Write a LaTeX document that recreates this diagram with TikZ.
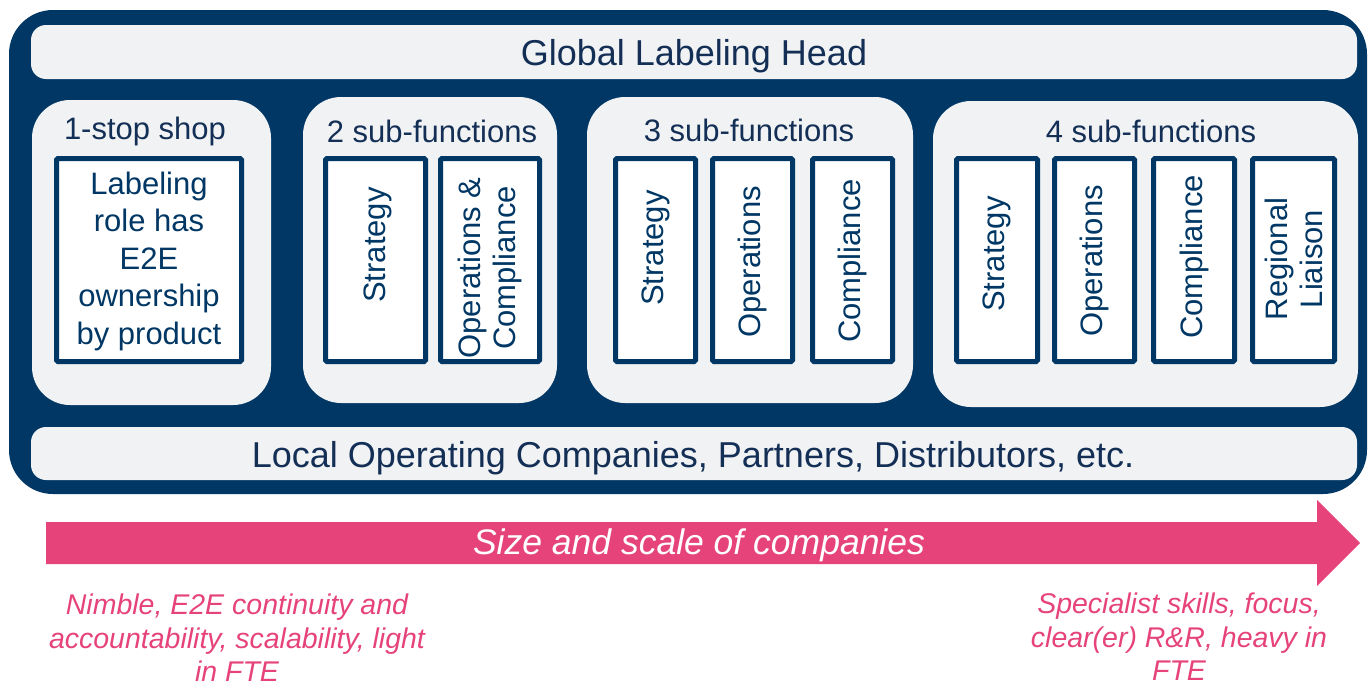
\documentclass[tikz,border=0pt]{standalone}
\usepackage{fontspec}
\setmainfont{Liberation Sans}
\definecolor{navy}{HTML}{003764}
\definecolor{inknavy}{HTML}{142F55}
\definecolor{panelgrey}{HTML}{F1F2F4}
\definecolor{scalepink}{HTML}{E5437A}
\begin{document}
\begin{tikzpicture}[x=1pt,y=-1pt,
  frame/.style={fill=navy, draw=none, rounded corners=44pt, inner sep=0pt, outer sep=0pt},
  bar/.style={fill=panelgrey, draw=none, rounded corners=15pt, minimum width=1326pt, inner sep=0pt},
  bartext/.style={anchor=base, text=inknavy, font=\fontsize{36}{43}\selectfont, inner sep=0pt},
  panel/.style={fill=panelgrey, draw=none, rounded corners=38pt, inner sep=0pt},
  ptitle/.style={text=inknavy, font=\fontsize{31}{37}\selectfont, inner sep=0pt},
  subbox/.style={fill=white, draw=navy, line width=5pt, rounded corners=1.5pt, minimum height=203pt, inner sep=0pt},
  vlabel/.style={rotate=90, text=navy, font=\fontsize{31}{35}\selectfont, align=center, inner sep=0pt},
  note/.style={text=scalepink, font=\fontsize{28.5}{33.5}\selectfont\itshape, align=center, inner sep=0pt}
]
\useasboundingbox (0,0) rectangle (1368,686);

% dark outer frame with the two grey bars
\node[frame, minimum width=1358pt, minimum height=484pt] (frame) at (688,252) {};
\node[bar, minimum height=54pt] (head) at (694,52) {};
\node[bar, minimum height=53pt] (local) at (694,453.5) {};
\node[bartext] (headtext) at (694,65.5) {Global Labeling Head};
\node[bartext] (localtext) at (693,467) {Local Operating Companies, Partners, Distributors, etc.};

% the four organisation models
\node[panel, minimum width=239pt, minimum height=305pt] (p1) at (151.5,252.5) {};
\node[panel, minimum width=254pt, minimum height=306pt] (p2) at (430,250) {};
\node[panel, minimum width=326pt, minimum height=306pt] (p3) at (750,250) {};
\node[panel, minimum width=425pt, minimum height=306pt] (p4) at (1145.5,254) {};

\node[ptitle] (t1) at (145,131) {1-stop shop};
\node[ptitle] (t2) at (432,131) {2 sub-functions};
\node[ptitle] (t3) at (749,130) {3 sub-functions};
\node[ptitle] (t4) at (1151,131) {4 sub-functions};

% one-stop shop
\node[subbox, minimum width=185pt] (b11) at (149,260) {};
\node[text=navy, font=\fontsize{31}{37.5}\selectfont, align=center, inner sep=0pt] (l11) at (149,261)
  {Labeling\\role has\\E2E\\ownership\\by product};

% two sub-functions
\node[subbox, minimum width=100pt] (b21) at (375.5,260) {};
\node[subbox, minimum width=99pt] (b22) at (490,260) {};
\node[vlabel] (l21) at (378,245) {Strategy};
\node[vlabel] (l22) at (490,268) {Operations \&\\Compliance};

% three sub-functions
\node[subbox, minimum width=80pt] (b31) at (655.5,260) {};
\node[subbox, minimum width=80pt] (b32) at (752.5,260) {};
\node[subbox, minimum width=80pt] (b33) at (852.5,260) {};
\node[vlabel] (l31) at (655.5,248) {Strategy};
\node[vlabel] (l32) at (752.5,262) {Operations};
\node[vlabel] (l33) at (852.5,261) {Compliance};

% four sub-functions
\node[subbox, minimum width=81pt] (b41) at (997,260) {};
\node[subbox, minimum width=80pt] (b42) at (1094.5,260) {};
\node[subbox, minimum width=81pt] (b43) at (1194,260) {};
\node[subbox, minimum width=82pt] (b44) at (1293.5,260) {};
\node[vlabel] (l41) at (997,254) {Strategy};
\node[vlabel] (l42) at (1094.5,261) {Operations};
\node[vlabel] (l43) at (1194,257) {Compliance};
\node[vlabel] (l44) at (1293.5,259) {Regional\\Liaison};

% size arrow
\fill[scalepink] (46,522) -- (1317,522) -- (1317,500) -- (1360,543) -- (1317,586) -- (1317,564) -- (46,564) -- cycle;
\node[text=white, font=\fontsize{35.5}{40}\selectfont\itshape, inner sep=0pt] (scale) at (699,545) {Size and scale of companies};

% trade-offs at both ends
\node[note] (small) at (237,638) {Nimble, E2E continuity and\\accountability, scalability, light\\in FTE};
\node[note] (large) at (1179,637) {Specialist skills, focus,\\clear(er) R\&R, heavy in\\FTE};
\end{tikzpicture}
\end{document}
